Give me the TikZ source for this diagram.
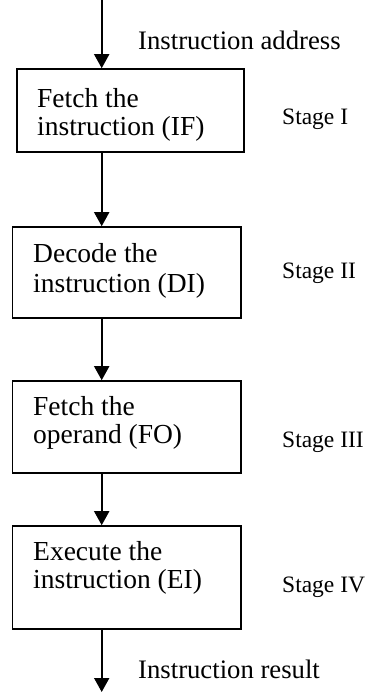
\documentclass[tikz,border=0pt]{standalone}
\usepackage{fontspec}
\setmainfont{Liberation Serif}
\usetikzlibrary{arrows.meta}

\tikzset{
  stagebox/.style={draw, line width=1.6pt, inner sep=0pt, rectangle},
  flow/.style={line width=1.8pt, -{Triangle[length=14pt,width=15pt]}},
  boxtext/.style={anchor=base west, inner sep=0pt, align=left,
    font=\fontsize{27.5pt}{28pt}\selectfont},
  sidetext/.style={anchor=base west, inner sep=0pt,
    font=\fontsize{26.7pt}{28pt}\selectfont},
  stagetext/.style={anchor=base west, inner sep=0pt,
    font=\fontsize{23.5pt}{26pt}\selectfont}
}

\begin{document}
\begin{tikzpicture}[x=1pt, y=-1pt]
  \useasboundingbox (0,0) rectangle (367,693);

  % pipeline stages
  \node[stagebox, minimum width=227pt, minimum height=83pt]  (b1) at (130.5,110.5) {};
  \node[stagebox, minimum width=228.5pt, minimum height=91pt]  (b2) at (126.75,272.5) {};
  \node[stagebox, minimum width=228.5pt, minimum height=92pt]  (b3) at (126.75,427) {};
  \node[stagebox, minimum width=228.5pt, minimum height=103pt] (b4) at (126.75,577.5) {};

  % stage contents
  \node[boxtext] (t1a) at (37,107) {Fetch the};
  \node[boxtext] (t1b) at (37,135) {instruction (IF)};
  \node[boxtext] (t2a) at (33,262) {Decode the};
  \node[boxtext] (t2b) at (33,292) {instruction (DI)};
  \node[boxtext] (t3a) at (33,415) {Fetch the};
  \node[boxtext] (t3b) at (33,443) {operand (FO)};
  \node[boxtext] (t4a) at (33,560) {Execute the};
  \node[boxtext] (t4b) at (33,588) {instruction (EI)};

  % stage labels
  \node[stagetext] (s1) at (282,124) {Stage I};
  \node[stagetext] (s2) at (282,278) {Stage II};
  \node[stagetext] (s3) at (282,447) {Stage III};
  \node[stagetext] (s4) at (282,592) {Stage IV};

  % input / output labels
  \node[sidetext] (inlbl)  at (138,49)  {Instruction address};
  \node[sidetext] (outlbl) at (138,678) {Instruction result};

  % data path
  \coordinate (in)  at (101.7,0);
  \coordinate (out) at (101.7,692);
  \draw[flow] (in) -- (in |- b1.north);
  \draw[flow] (b1.south -| in) -- (b2.north -| in);
  \draw[flow] (b2.south -| in) -- (b3.north -| in);
  \draw[flow] (b3.south -| in) -- (b4.north -| in);
  \draw[flow] (b4.south -| in) -- (out);
\end{tikzpicture}
\end{document}
